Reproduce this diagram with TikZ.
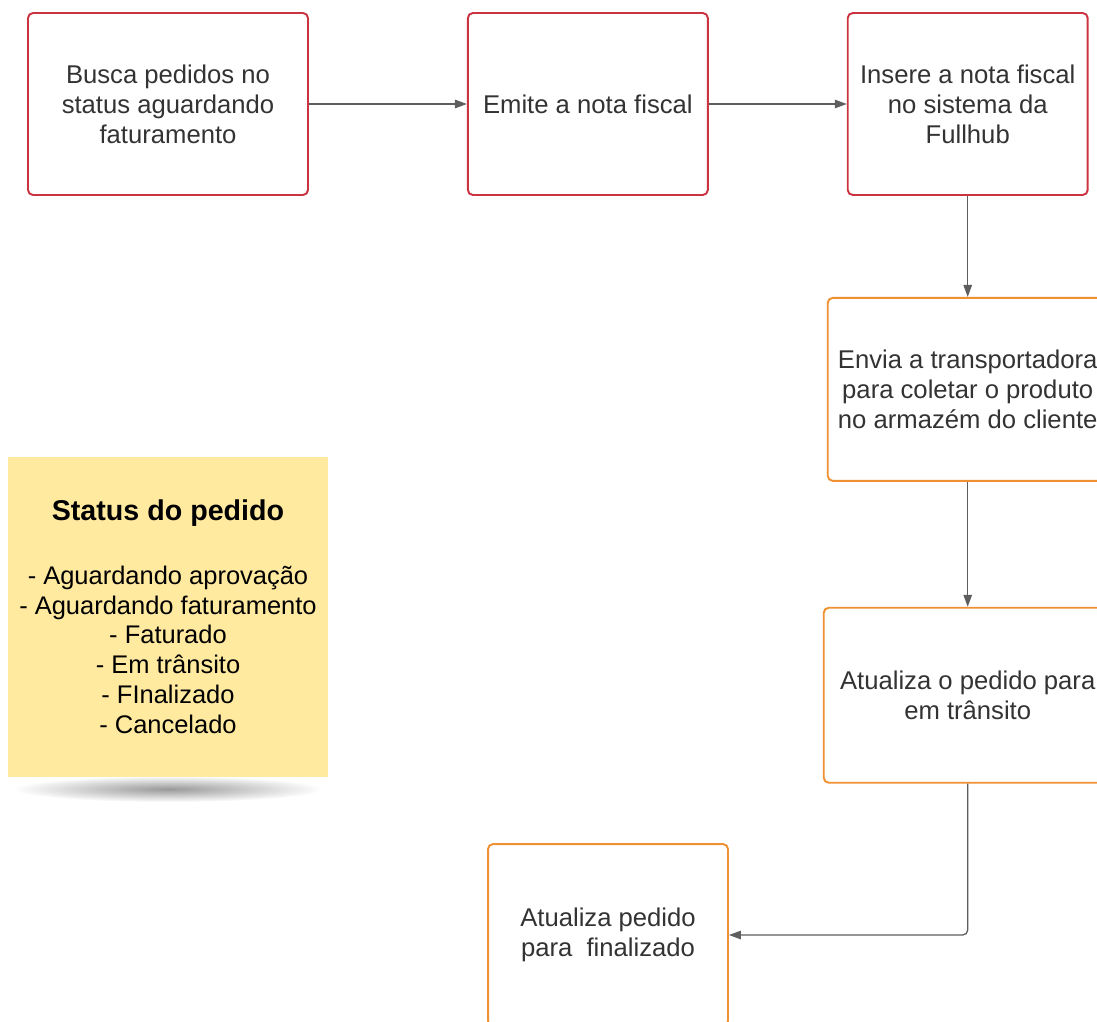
\documentclass[tikz,border=0pt]{standalone}
\usepackage{fontspec}
\setmainfont{Liberation Sans}
\usetikzlibrary{positioning,arrows.meta}

\definecolor{boxred}{HTML}{CC3340}
\definecolor{boxorange}{HTML}{EF9133}
\definecolor{linegray}{HTML}{5E5E5E}
\definecolor{txtgray}{HTML}{333333}
\definecolor{noteyellow}{HTML}{FFEAA0}

\begin{document}
\begin{tikzpicture}[
      x=0.02cm, y=-0.02cm,
      step box/.style={
        draw, line width=1.1pt, fill=white, rounded corners=0.1cm,
        text=txtgray, align=center, inner sep=2pt,
        font=\fontsize{14.6}{17}\selectfont
      },
      red box/.style={step box, draw=boxred},
      orange box/.style={step box, draw=boxorange},
      flow/.style={->, draw=linegray, line width=0.75pt, rounded corners=0.1cm},
      >={Triangle[length=2.4mm,width=1.7mm]}
      ]

  \clip (0,0) rectangle (1097,1021);

  % top row
  \node[red box, minimum width=5.6cm, minimum height=3.64cm] (busca) at (168,104)
       {Busca pedidos no\\status aguardando\\faturamento};
  \node[red box, minimum width=4.8cm, minimum height=3.64cm, right = 3.16cm of busca] (emite)
       {Emite a nota fiscal};
  \node[red box, minimum width=4.8cm, minimum height=3.64cm, right = 2.76cm of emite] (insere)
       {Insere a nota fiscal\\no sistema da\\Fullhub};

  % right column
  \node[orange box, minimum width=5.6cm, minimum height=3.66cm, below = 2.02cm of insere] (envia)
       {Envia a transportadora\\para coletar o produto\\no armaz\'em do cliente};
  \node[orange box, minimum width=5.76cm, minimum height=3.5cm, below = 2.5cm of envia] (transito)
       {Atualiza o pedido para\\em tr\^ansito};
  \node[orange box, minimum width=4.8cm, minimum height=3.64cm] (finaliza) at (608,935)
       {Atualiza pedido\\para\ \ finalizado};

  % note with its shadow
  \shade[inner color=black!40, outer color=white] (168,789) ellipse (155 and 13);
  \node[fill=noteyellow, minimum width=6.4cm, minimum height=6.4cm, align=center,
        inner sep=0pt, font=\fontsize{14.5}{17}\selectfont] (status) at (168,617)
       {{\bfseries\fontsize{16.3}{19}\selectfont Status do pedido}\\[19pt]
        - Aguardando aprova\c{c}\~ao\\- Aguardando faturamento\\- Faturado\\
        - Em tr\^ansito\\- FInalizado\\- Cancelado};

  % Connect the nodes
  \draw[flow] (busca) -- (emite);
  \draw[flow] (emite) -- (insere);
  \draw[flow] (insere) -- (envia);
  \draw[flow] (envia) -- (transito);
  \draw[flow] (transito.south) |- (finaliza.east);

\end{tikzpicture}
\end{document}
